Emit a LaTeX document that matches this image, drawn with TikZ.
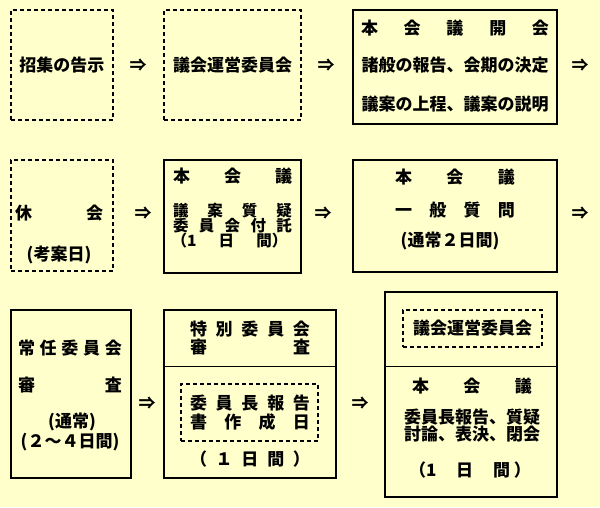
\documentclass[tikz,border=0pt]{standalone}
\usepackage{fontspec}
\newfontfamily\jp{Noto Sans CJK JP}
\usepackage{xcolor}
\definecolor{paperYellow}{HTML}{FFFFCC}
\definecolor{inkBlack}{HTML}{000000}
\usepackage{tikz}
\usetikzlibrary{calc}
\newcommand{\spreadtxt}[2]{\makebox[#1pt][s]{#2}}
\tikzset{
  every picture/.append style={font=\jp\bfseries\fontsize{17}{17}\selectfont},
  dashbox/.style={rectangle,draw=inkBlack,line width=1.8pt,dash pattern=on 4pt off 3pt,inner sep=0pt},
  solidbox/.style={rectangle,draw=inkBlack,line width=2.6pt,inner sep=0pt},
  splitline/.style={draw=inkBlack,line width=1pt},
  flowmark/.style={inner sep=0pt,text=inkBlack},
  jtext/.style={inner sep=0pt,text=inkBlack},
  jtight/.style={jtext,font=\jp\bfseries\fontsize{15.5}{15.5}\selectfont},
}
\begin{document}
\begin{tikzpicture}[x=1pt,y=-1pt]
  \fill[paperYellow] (0,0) rectangle (600,507);
  \useasboundingbox (0,0) rectangle (600,507);

  % row 1
  \node[dashbox, minimum width=102pt, minimum height=110pt] (notice) at (62,65) {};
  \node[jtext] (noticeT) at (notice.center) {招集の告示};

  \node[dashbox, minimum width=137pt, minimum height=110pt] (steer) at (232.5,65) {};
  \node[jtext] (steerT) at (steer.center) {議会運営委員会};

  \node[solidbox, minimum width=204pt, minimum height=114pt] (opening) at (455,67) {};
  \node[jtext] (openA) at ($(opening.center)+(0,-39)$) {\spreadtxt{188}{本\hfill 会\hfill 議\hfill 開\hfill 会}};
  \node[jtext] (openB) at ($(opening.center)+(0,-2)$) {諸般の報告、会期の決定};
  \node[jtext] (openC) at ($(opening.center)+(0,37)$) {議案の上程、議案の説明};

  \node[flowmark] (go1) at (138,65) {⇒};
  \node[flowmark] (go2) at (326,65) {⇒};
  \node[flowmark] (go3) at (580,65) {⇒};

  % row 2
  \node[dashbox, minimum width=102pt, minimum height=111pt] (recess) at (62,215.5) {};
  \node[jtext] (recessA) at (59,213) {\spreadtxt{88}{休\hfill 会}};
  \node[jtext] (recessB) at (59,255) {(考案日)};

  \node[solidbox, minimum width=137pt, minimum height=113pt] (billq) at (232.5,216.5) {};
  \node[jtext] (billqA) at ($(billq.center)+(0,-40.5)$) {\spreadtxt{119}{本\hfill 会\hfill 議}};
  \node[jtight] (billqB) at ($(billq.center)+(0,-5.5)$) {\spreadtxt{119}{議\hfill 案\hfill 質\hfill 疑}};
  \node[jtight] (billqC) at ($(billq.center)+(0,9.5)$) {\spreadtxt{119}{委\hfill 員\hfill 会\hfill 付\hfill 託}};
  \node[jtight] (billqD) at ($(billq.center)+(-3,24.5)$) {\spreadtxt{116}{（1\hfill 日\hfill 間）}};

  \node[solidbox, minimum width=204pt, minimum height=112pt] (general) at (455,216) {};
  \node[jtext] (generalA) at ($(general.center)+(0,-39)$) {\spreadtxt{120}{本\hfill 会\hfill 議}};
  \node[jtext] (generalB) at ($(general.center)+(0,-6)$) {\spreadtxt{120}{一\hfill 般\hfill 質\hfill 問}};
  \node[jtext] (generalC) at ($(general.center)+(-5,25)$) {(通常２日間)};

  \node[flowmark] (go4) at (143,213) {⇒};
  \node[flowmark] (go5) at (323,213) {⇒};
  \node[flowmark] (go6) at (580,213) {⇒};

  % row 3
  \node[solidbox, minimum width=120pt, minimum height=168pt] (standing) at (71,394) {};
  \node[jtext] (standA) at (70,348) {\spreadtxt{104}{常\hfill 任\hfill 委\hfill 員\hfill 会}};
  \node[jtext] (standB) at (70,385) {\spreadtxt{104}{審\hfill 査}};
  \node[jtext] (standC) at (72,422) {(通常)};
  \node[jtext] (standD) at (70,442) {(２～４日間)};

  \node[solidbox, minimum width=172pt, minimum height=168pt] (special) at (250,394) {};
  \draw[splitline] (special.west |- 0,366) -- (special.east |- 0,366);
  \node[jtext] (specialA) at (250,329) {\spreadtxt{120}{特\hfill 別\hfill 委\hfill 員\hfill 会}};
  \node[jtext] (specialB) at (250,347) {\spreadtxt{120}{審\hfill 査}};
  \node[dashbox, minimum width=137pt, minimum height=57pt] (report) at (249.5,412.5) {};
  \node[jtext] (reportA) at (250,403) {\spreadtxt{120}{委\hfill 員\hfill 長\hfill 報\hfill 告}};
  \node[jtext] (reportB) at (250,422) {\spreadtxt{120}{書\hfill 作\hfill 成\hfill 日}};
  \node[jtext] (specialC) at (250,459) {\spreadtxt{120}{（\hfill １\hfill 日\hfill 間\hfill ）}};

  \node[solidbox, minimum width=172pt, minimum height=205pt] (closing) at (471,394.5) {};
  \draw[splitline] (closing.west |- 0,366) -- (closing.east |- 0,366);
  \node[dashbox, minimum width=139pt, minimum height=37pt] (steer2) at (472.5,328.5) {};
  \node[jtext] (steer2T) at (steer2.center) {議会運営委員会};
  \node[jtext] (closeA) at (472,386) {\spreadtxt{120}{本\hfill 会\hfill 議}};
  \node[jtext] (closeB) at (472,417) {委員長報告、質疑};
  \node[jtext] (closeC) at (472,434) {討論、表決、閉会};
  \node[jtext] (closeD) at (470,470) {\spreadtxt{122}{（1\hfill 日\hfill 間 ）}};

  \node[flowmark] (go7) at (147,403) {⇒};
  \node[flowmark] (go8) at (360,403) {⇒};
\end{tikzpicture}
\end{document}
